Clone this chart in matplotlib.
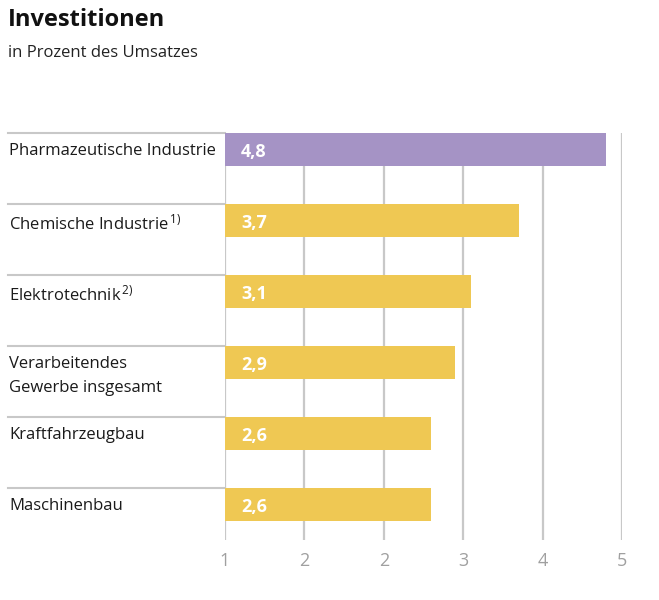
import matplotlib.pyplot as plt
import numpy as np

plt.rcParams['font.family'] = ['Open Sans', 'DejaVu Sans']
plt.rcParams['mathtext.default'] = 'regular'

categories = ["Pharmazeutische Industrie", "Chemische Industrie$^{\\,1)}$",
              "Elektrotechnik$^{\\,2)}$", "Verarbeitendes\nGewerbe insgesamt",
              "Kraftfahrzeugbau", "Maschinenbau"]
values = [4.8, 3.7, 3.1, 2.9, 2.6, 2.6]
value_labels = ["4,8", "3,7", "3,1", "2,9", "2,6", "2,6"]
tick_pos = [0, 1, 2, 3, 4, 5]
tick_labels = ["1", "2", "2", "3", "4", "5"]

purple = "#a593c5"
yellow = "#efc853"
grey = "#c8c8c8"

W, H = 659, 600
fig = plt.figure(figsize=(W / 100, H / 100), dpi=100)
ax = fig.add_axes([225 / W, 1 - 540 / H, 397 / W, (540 - 133) / H])

bh = 33 / 71
y = np.arange(len(values))
colors = [purple] + [yellow] * (len(values) - 1)
ax.barh(y, values, height=bh, color=colors, zorder=3)
ax.set_xlim(0, 5)
ax.set_ylim(5.5, -bh / 2)

ax.vlines(tick_pos, 5.5, -bh / 2, color=grey, lw=1.6, zorder=1)
for s in ax.spines.values():
    s.set_visible(False)
ax.set_yticks([])
ax.set_xticks(tick_pos)
ax.set_xticklabels(tick_labels, color="#a0a0a0", fontsize=13)
ax.tick_params(axis="x", length=0, pad=9)

tr = ax.get_yaxis_transform()
xl = (8 - 225) / 397
for i, (cat, lab) in enumerate(zip(categories, value_labels)):
    ax.plot([xl, 0], [i - bh / 2, i - bh / 2], color=grey, lw=1.5,
            transform=tr, clip_on=False)
    ax.text(xl + 0.003, i - bh / 2 + 0.14, cat, transform=tr, va="top", ha="left",
            fontsize=12, color="#1a1a1a", linespacing=1.65)
    ax.text(0.2, i + 0.04, lab, va="center", ha="left", color="white",
            fontsize=13, fontweight="bold", zorder=4)

fig.text(8 / W, 1 - 8 / H, "Investitionen", fontsize=17, fontweight="bold",
         va="top", ha="left", color="#111111")
fig.text(8 / W, 1 - 45 / H, "in Prozent des Umsatzes", fontsize=12,
         va="top", ha="left", color="#222222")

fig.savefig("out.png", dpi=100)
